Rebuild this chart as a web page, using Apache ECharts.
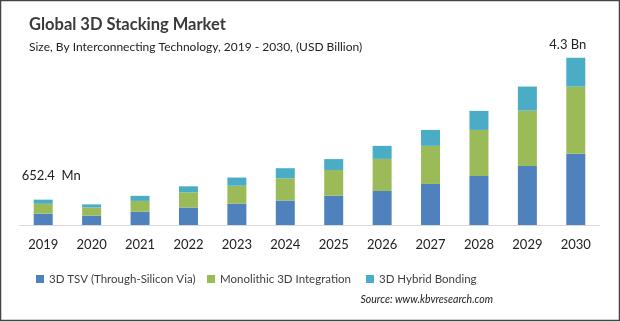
<!DOCTYPE html>
<html>
<head>
<meta charset="utf-8">
<script src="https://cdn.jsdelivr.net/npm/echarts@6/dist/echarts.min.js"></script>
<style>
html,body{margin:0;padding:0;background:#fff;}
#c{width:620px;height:322px;}
</style>
</head>
<body>
<div id="c"></div>
<script>
const years = ['2019','2020','2021','2022','2023','2024','2025','2026','2027','2028','2029','2030'];
const tsv = [0.29,0.24,0.34,0.45,0.55,0.63,0.755,0.875,1.055,1.26,1.52,1.83];
const mono = [0.255,0.21,0.28,0.39,0.46,0.57,0.66,0.825,0.98,1.185,1.42,1.73];
const hybrid = [0.107,0.08,0.13,0.155,0.21,0.26,0.28,0.335,0.41,0.49,0.62,0.74];
const seriesNames = ['3D TSV (Through-Silicon Via)','Monolithic 3D Integration','3D Hybrid Bonding'];
const endLabels = {0:'652.4  Mn', 11:'4.3 Bn'};

const font = 'Lato, "Open Sans", sans-serif';
const chart = echarts.init(document.getElementById('c'));
const hybridData = hybrid.map((v,i)=>{
  if (i===0) return {value:v,label:{show:true,position:'top',formatter:endLabels[0],offset:[8,-12],color:'#222',fontSize:13,fontFamily:font}};
  if (i===11) return {value:v,label:{show:true,position:'top',formatter:endLabels[11],offset:[-8,-1],color:'#222',fontSize:13,fontFamily:font}};
  return v;
});
const legendText = {fontSize:11.5,color:'#404040',fontFamily:font};
chart.setOption({
  animation:false,
  title:[
    {text:'Global 3D Stacking Market',left:24,top:11,textStyle:{fontSize:16.5,fontWeight:'bold',color:'#3a3a3a',fontFamily:font}},
    {text:'Size, By Interconnecting Technology, 2019 - 2030, (USD Billion)',left:24,top:36,textStyle:{fontSize:12,fontWeight:'normal',color:'#222',fontFamily:font}}
  ],
  legend:[
    {data:[seriesNames[0]],left:31,top:268,itemWidth:8,itemHeight:8,itemGap:5,icon:'rect',textStyle:legendText},
    {data:[seriesNames[1]],left:202,top:268,itemWidth:8,itemHeight:8,icon:'rect',textStyle:legendText},
    {data:[seriesNames[2]],left:361,top:268,itemWidth:8,itemHeight:8,icon:'rect',textStyle:legendText}
  ],
  grid:{left:19,right:20,top:50,bottom:97},
  xAxis:{type:'category',data:years,
    axisLine:{lineStyle:{color:'#d9d9d9'}},axisTick:{show:false},
    axisLabel:{fontSize:13,color:'#222',margin:13,fontFamily:font}},
  yAxis:{type:'value',min:0,max:4.5,show:false,splitLine:{show:false}},
  series:[
    {name:seriesNames[0],type:'bar',stack:'t',barWidth:19,data:tsv,itemStyle:{color:'#4f81bd'}},
    {name:seriesNames[1],type:'bar',stack:'t',barWidth:19,data:mono,itemStyle:{color:'#9bbb59'}},
    {name:seriesNames[2],type:'bar',stack:'t',barWidth:19,data:hybridData,itemStyle:{color:'#4bacc6'}}
  ],
  graphic:[
    {type:'rect',shape:{x:0.5,y:0.5,width:619,height:320},style:{fill:'none',stroke:'#444',lineWidth:1.5},silent:true},
    {type:'text',right:127,top:294,style:{text:'Source: www.kbvresearch.com',fontSize:10.5,fontStyle:'italic',fill:'#222',fontFamily:font}}
  ]
});
</script>
</body>
</html>
